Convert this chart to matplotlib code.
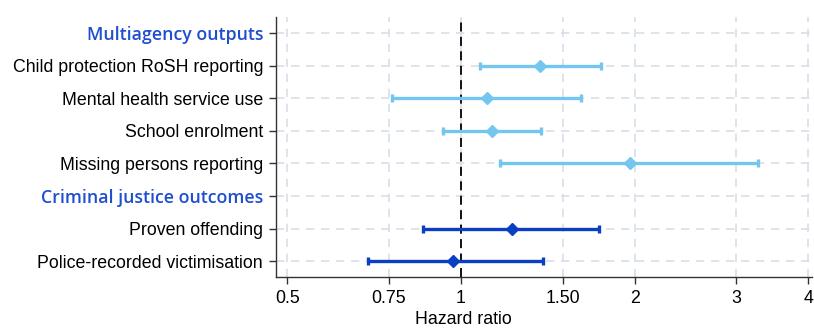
import numpy as np
import matplotlib.pyplot as plt
from matplotlib.ticker import FixedLocator, FixedFormatter, NullLocator

# filas del forest plot (de arriba a abajo)
labels = ["Multiagency outputs", "Child protection RoSH reporting", "Mental health service use",
          "School enrolment", "Missing persons reporting", "Criminal justice outcomes",
          "Proven offending", "Police-recorded victimisation"]
headers = [0, 5]

hr = [np.nan, 1.37, 1.11, 1.13, 1.96, np.nan, 1.225, 0.97]
lo = [np.nan, 1.08, 0.76, 0.93, 1.17, np.nan, 0.86, 0.69]
hi = [np.nan, 1.745, 1.615, 1.375, 3.27, np.nan, 1.735, 1.385]
group = ["", "multi", "multi", "multi", "multi", "", "crim", "crim"]

xticks = [0.5, 0.75, 1, 1.5, 2, 3, 4]
xticklabels = ["0.5", "0.75", "1", "1.50", "2", "3", "4"]

colores = {"multi": "#74C6EF", "crim": "#0A3EC4"}
head_color = "#1F4FD0"

plt.rcParams["font.family"] = ["Liberation Sans", "DejaVu Sans"]

fig = plt.figure(figsize=(8.14, 3.31), dpi=100)
ax = fig.add_axes([0.3385, 0.162, 0.6585, 0.7875])

y = np.arange(len(labels))
for i in range(len(labels)):
    if group[i] == "":
        continue
    c = colores[group[i]]
    ax.errorbar(hr[i], y[i], xerr=[[hr[i] - lo[i]], [hi[i] - hr[i]]], fmt="D", color=c,
                ecolor=c, elinewidth=2.4, capsize=3, capthick=2.4, markersize=6.5, zorder=3)

ax.axvline(1, color="black", linestyle=(0, (5, 3)), linewidth=1.3, zorder=2)

ax.set_xscale("log")
ax.set_xlim(0.4771, 4.05)
ax.set_ylim(7.5, -0.5)
ax.xaxis.set_major_locator(FixedLocator(xticks))
ax.xaxis.set_major_formatter(FixedFormatter(xticklabels))
ax.xaxis.set_minor_locator(NullLocator())
ax.set_yticks(y)
ax.set_yticklabels(labels)

ax.tick_params(axis="both", labelsize=12.8, length=5, width=1, colors="#333333", labelcolor="black")
ax.tick_params(axis="y", pad=4)
ax.tick_params(axis="x", pad=4)

for i in headers:
    t = ax.get_yticklabels()[i]
    t.set_color(head_color)
    t.set_fontweight("semibold")
    t.set_fontfamily("Open Sans")

ax.grid(True, color="#D8DFE8", linestyle=(0, (5, 4)), linewidth=1.2, zorder=0)
ax.set_axisbelow(True)

for s in ["top", "right"]:
    ax.spines[s].set_visible(False)
for s in ["left", "bottom"]:
    ax.spines[s].set_color("#333333")
    ax.spines[s].set_linewidth(1)

ax.set_xlabel("Hazard ratio", fontsize=12.8)
ax.xaxis.set_label_coords(0.351, -0.128)

fig.savefig("out.png", dpi=100)
